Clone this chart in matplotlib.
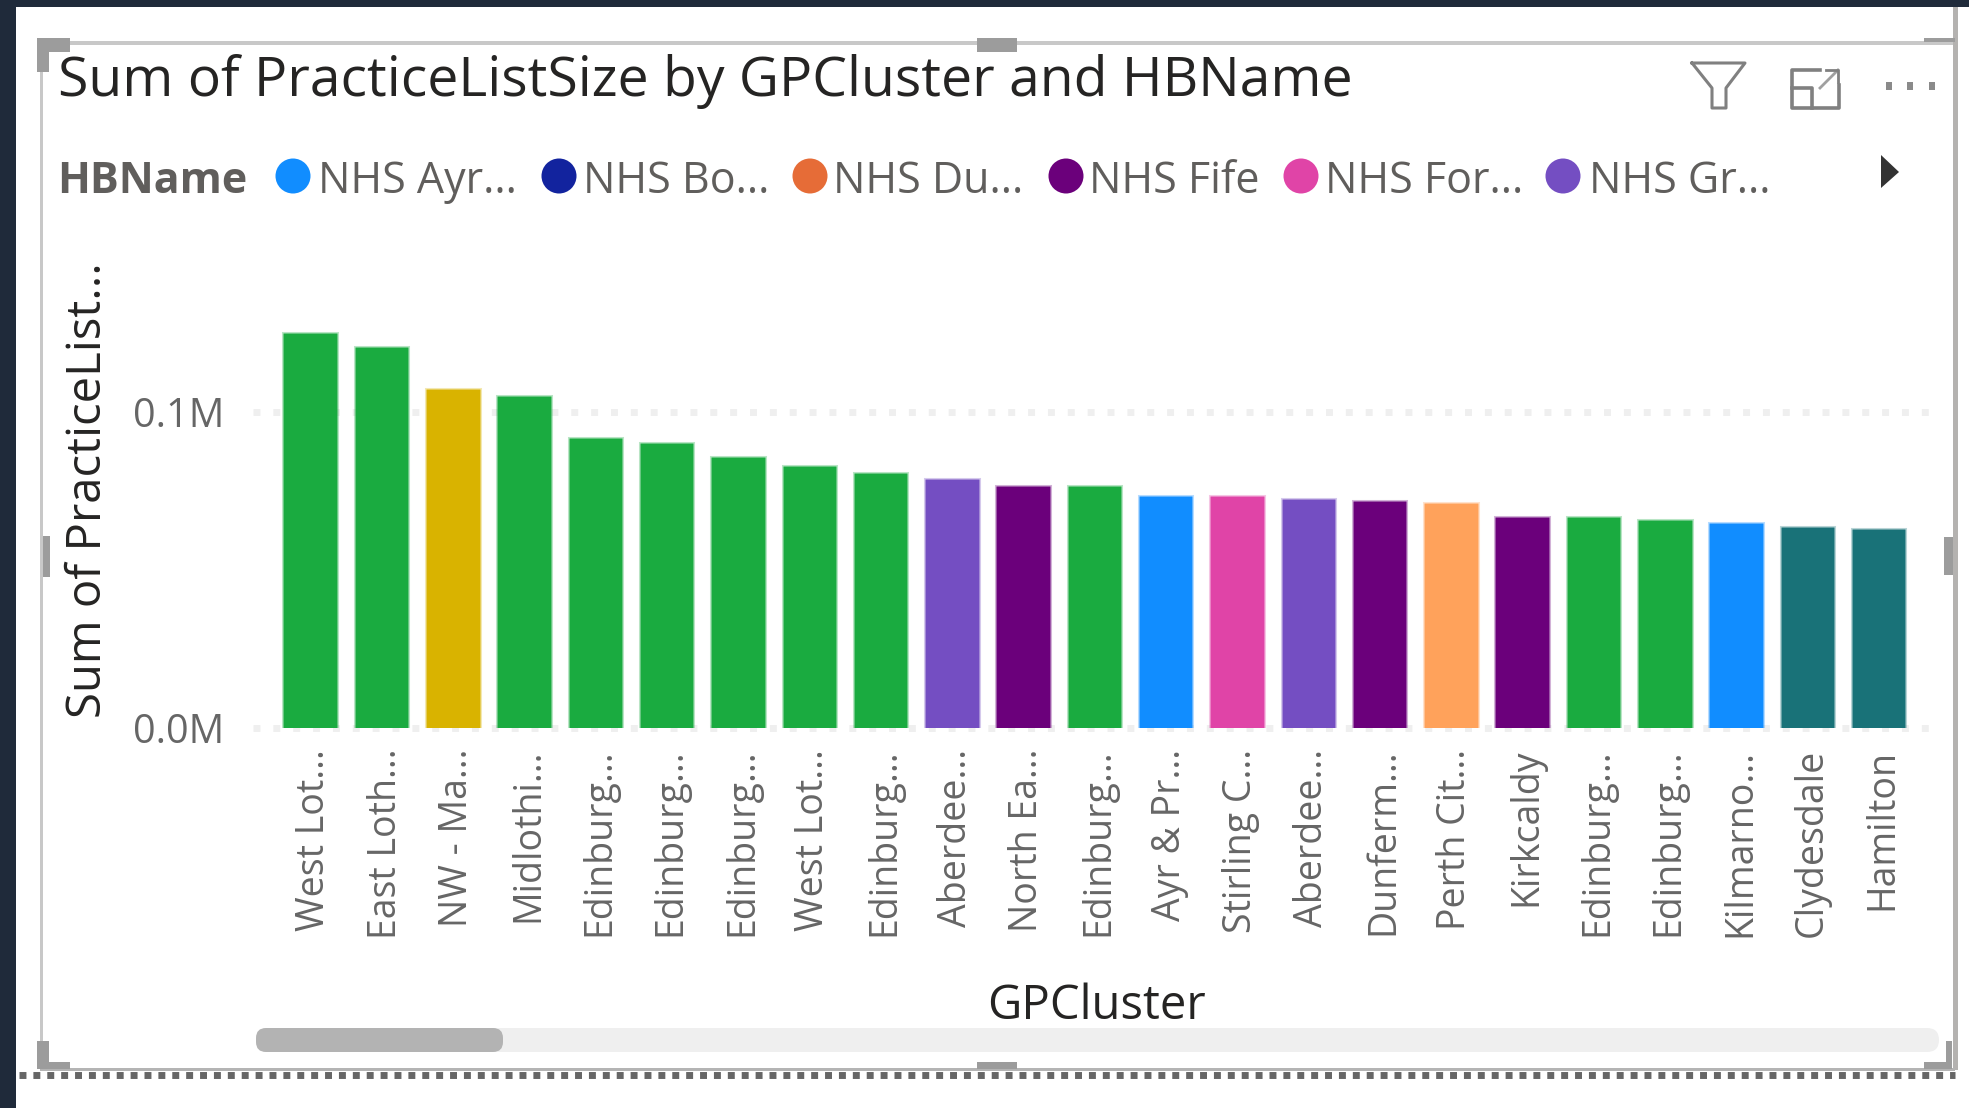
import matplotlib
matplotlib.use('Agg')
import matplotlib.pyplot as plt
from matplotlib.patches import Rectangle, Ellipse, FancyBboxPatch, Polygon
from matplotlib.ticker import FuncFormatter
from matplotlib.transforms import ScaledTranslation

plt.rcParams['font.family'] = ['Open Sans', 'DejaVu Sans']

clusters = ['West Lot...', 'East Loth...', 'NW - Ma...', 'Midlothi...', 'Edinburg...', 'Edinburg...',
            'Edinburg...', 'West Lot...', 'Edinburg...', 'Aberdee...', 'North Ea...', 'Edinburg...',
            'Ayr & Pr...', 'Stirling C...', 'Aberdee...', 'Dunferm...', 'Perth Cit...', 'Kirkcaldy',
            'Edinburg...', 'Edinburg...', 'Kilmarno...', 'Clydesdale', 'Hamilton']
values = [125000, 120600, 107400, 105000, 91700, 90200, 85900, 83000, 80600, 78700, 76700, 76500,
          73500, 73500, 72500, 71800, 71200, 66800, 66800, 65700, 64800, 63700, 63000]
green = '#1AAB40'
gold = '#D9B300'
purple = '#744EC2'
plum = '#6B007B'
blue = '#118DFF'
pink = '#E044A7'
peach = '#FFA25B'
teal = '#197278'
bar_colors = [green, green, gold, green, green, green, green, green, green, purple, plum, green,
              blue, pink, purple, plum, peach, plum, green, green, blue, teal, teal]
legend_names = ['NHS Ayr...', 'NHS Bo...', 'NHS Du...', 'NHS Fife', 'NHS For...', 'NHS Gr...']
legend_colors = [blue, '#12239E', '#E66C37', plum, pink, purple]
legend_dot_x = [293, 559, 810, 1066, 1301, 1563]
legend_text_x = [318, 583, 833, 1089, 1325, 1589]

W, H = 1969, 1108
fig = plt.figure(figsize=(W / 100, H / 100), dpi=100, facecolor='white')

# pixel canvas for the report frame, handles, header and scrollbar
bg = fig.add_axes([0, 0, 1, 1])
bg.set_xlim(0, W)
bg.set_ylim(H, 0)
bg.axis('off')


def box(x0, y0, x1, y1, color, z=1):
    bg.add_patch(Rectangle((x0, y0), x1 - x0, y1 - y0, facecolor=color, edgecolor='none', zorder=z))


navy = '#1F2A3A'
box(0, 0, W, 7, navy)
box(0, 0, 16, H, navy)

# frame
box(40, 41, 1955, 45, '#C8C8C8')
box(40, 41, 43, 1070, '#C8C8C8')
box(1953, 7, 1958, 1070, '#B4B2B0')
box(40, 1068, 1955, 1071, '#B4B4B4')
bg.plot([19, 1955], [1075, 1075], color='#666666', lw=5, ls=(0, (1, 1)), zorder=2, dash_capstyle='butt')

# selection handles
handle = '#9C9C9C'
for r in [(37, 38, 70, 52), (37, 38, 49, 72), (977, 38, 1017, 52), (1924, 38, 1955, 42),
          (37, 1041, 49, 1069), (37, 1062, 70, 1069), (977, 1062, 1017, 1069),
          (1924, 1062, 1952, 1069), (1946, 1041, 1952, 1069), (43, 536, 50, 577), (1944, 537, 1953, 575)]:
    box(*r, handle, z=3)

# header
bg.text(58, 96, 'Sum of PracticeListSize by GPCluster and HBName', fontsize=39.8, color='#252423',
        va='baseline', ha='left', zorder=5)
bg.text(57, 193, 'HBName', fontsize=31, fontweight='bold', color='#605E5C', va='baseline', ha='left', zorder=5)
for name, col, dx, tx in zip(legend_names, legend_colors, legend_dot_x, legend_text_x):
    bg.add_patch(Ellipse((dx, 176), 35, 35, facecolor=col, edgecolor='none', zorder=5))
    bg.text(tx, 193, name, fontsize=31, color='#605E5C', va='baseline', ha='left', zorder=5)
bg.add_patch(Polygon([(1881, 155), (1899, 172), (1881, 188)], closed=True, facecolor='#333333', edgecolor='none'))

# header icons
icon = '#808080'
bg.plot([1692, 1745, 1726, 1726, 1712, 1712, 1692], [63, 63, 88, 108, 108, 88, 63], color=icon, lw=2.2)
bg.plot([1820, 1792, 1792, 1839, 1839], [70, 70, 108, 108, 85], color=icon, lw=2.6)
bg.plot([1792, 1812, 1812], [88, 88, 108], color=icon, lw=2.6)
bg.plot([1820, 1838], [88, 70], color='#A0A0A0', lw=2)
bg.plot([1826, 1838, 1838], [70, 70, 82], color=icon, lw=2)
for x in [1889, 1910, 1932]:
    box(x - 3, 82, x + 3, 90, '#8A8A8A')

# scrollbar
bg.add_patch(FancyBboxPatch((268, 1028), 1671, 24, boxstyle='round,pad=0,rounding_size=12',
                            facecolor='#EFEFEF', edgecolor='none', zorder=2))
bg.add_patch(FancyBboxPatch((256, 1028), 247, 24, boxstyle='round,pad=0,rounding_size=10',
                            facecolor='#B3B3B3', edgecolor='none', zorder=3))

# chart
left, right, top, bottom = 240, 1940, 254, 728
ax = fig.add_axes([left / W, 1 - bottom / H, (right - left) / W, (bottom - top) / H])
ax.patch.set_alpha(0)
x = list(range(len(clusters)))
edge = [matplotlib.colors.to_rgba(c, 0.3) for c in bar_colors]
ax.bar(x, values, width=0.75, color=bar_colors, edgecolor=edge, linewidth=2.2, zorder=3)
ax.set_yticks([0, 100000])
ax.yaxis.set_major_formatter(FuncFormatter(lambda v, p: f'{v / 1e6:.1f}M'))
ax.set_xticks(x)
ax.set_xticklabels(clusters, rotation=90, ha='center', va='top')
ax.tick_params(axis='x', length=0, pad=15, labelsize=27, labelcolor='#666666')
ax.tick_params(axis='y', length=0, pad=11, labelsize=28.5, labelcolor='#666666')
# labels sit a little right of the bar centres
for lab in ax.get_xticklabels():
    lab.set_transform(lab.get_transform() + ScaledTranslation(4 / 100, 0, fig.dpi_scale_trans))
for s in ax.spines.values():
    s.set_visible(False)
for v in [0, 100000]:
    ax.plot([-0.8, 22.7], [v, v], color='#EFEFEF', lw=5, ls=(0, (1, 1.86)), clip_on=False, zorder=1,
            dash_capstyle='butt')
ax.set_xlim(-0.985, 22.86)
ax.set_ylim(0, 150000)

bg.text(1096, 1006, 'GPCluster', fontsize=34, color='#252423', ha='center', va='center', zorder=5)
bg.text(88, 490, 'Sum of PracticeList...', fontsize=34, color='#252423', rotation=90, ha='center', va='center', zorder=5)

fig.savefig('out.png', dpi=100)
